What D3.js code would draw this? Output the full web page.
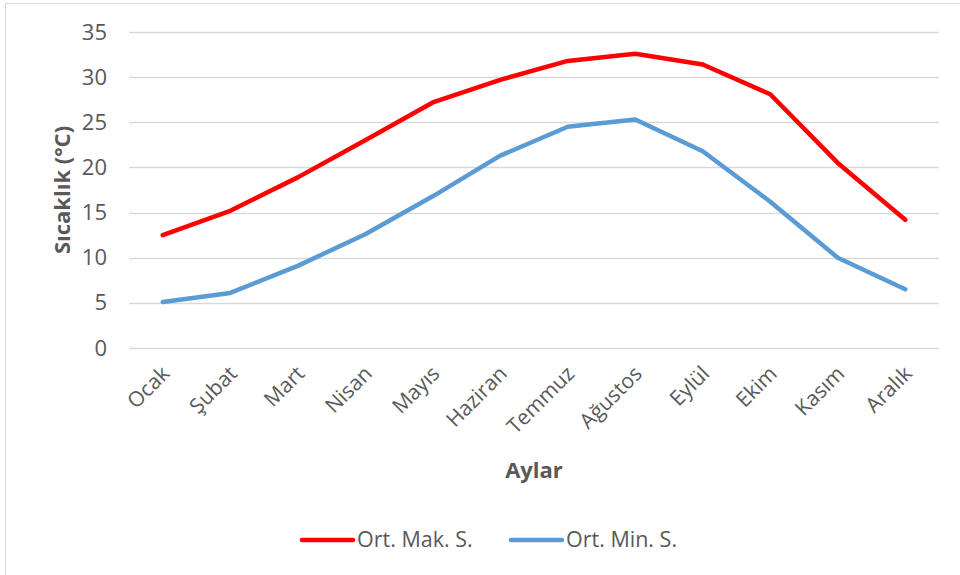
<!DOCTYPE html>
<html>
<head>
<meta charset="utf-8">
<script src="https://cdn.jsdelivr.net/npm/d3@7"></script>
<style>
  body { margin: 0; background: #fff; }
  text { font-family: "Open Sans", sans-serif; fill: #595959; }
</style>
</head>
<body>
<script>
// chart data
var months = ['Ocak', 'Şubat', 'Mart', 'Nisan', 'Mayıs', 'Haziran', 'Temmuz', 'Ağustos', 'Eylül', 'Ekim', 'Kasım', 'Aralık'];
var maxTemp = [12.5, 15.2, 18.9, 23.0, 27.2, 29.7, 31.8, 32.6, 31.4, 28.1, 20.5, 14.2];
var minTemp = [5.1, 6.1, 9.1, 12.6, 16.8, 21.3, 24.5, 25.3, 21.8, 16.2, 10.0, 6.5];
var yTicks = [0, 5, 10, 15, 20, 25, 30, 35];
var seriesNames = ['Ort. Mak. S.', 'Ort. Min. S.'];
var seriesColors = ['#ff0000', '#5b9bd5'];

var w = 960, h = 575;
var margin = {top: 32, left: 129, right: 21, bottom: 227};
var width = w - margin.left - margin.right;
var height = h - margin.top - margin.bottom;

var svg = d3.select('body').append('svg')
    .attr('width', w)
    .attr('height', h);

// chart frame
svg.append('rect')
    .attr('x', 5.5).attr('y', 3.5)
    .attr('width', 980).attr('height', 600)
    .attr('fill', 'none')
    .attr('stroke', '#d9d9d9');

var chart = svg.append('g')
    .attr('transform', 'translate(' + margin.left + ',' + margin.top + ')');

var x = d3.scaleBand()
    .domain(months)
    .range([0, width]);
var y = d3.scaleLinear()
    .domain([0, 35])
    .range([height, 0]);

// gridlines
chart.append('g')
    .selectAll('line')
    .data(yTicks)
    .enter()
    .append('line')
    .attr('x1', 0).attr('x2', width)
    .attr('y1', function (d) { return Math.round(y(d)) + 0.5; })
    .attr('y2', function (d) { return Math.round(y(d)) + 0.5; })
    .attr('stroke', '#d9d9d9')
    .attr('stroke-width', 1.3);

// y axis
var yAxis = d3.axisLeft(y).tickValues(yTicks).tickSize(0).tickPadding(22);
var gy = chart.append('g').call(yAxis);
gy.select('.domain').remove();
gy.selectAll('text')
    .style('font-size', '22px')
    .attr('fill', '#595959');

// x axis
var xAxis = d3.axisBottom(x).tickSize(0).tickPadding(0);
var gx = chart.append('g')
    .attr('transform', 'translate(0,' + height + ')')
    .call(xAxis);
gx.select('.domain').remove();
gx.selectAll('text')
    .style('font-size', '21px')
    .attr('fill', '#595959')
    .attr('text-anchor', 'end')
    .attr('dy', '0')
    .attr('y', 0)
    .attr('transform', 'translate(8,27) rotate(-45)');

// lines
var line = d3.line()
    .x(function (d, i) { return x(months[i]) + x.bandwidth() / 2; })
    .y(function (d) { return y(d); });

[maxTemp, minTemp].forEach(function (series, i) {
    chart.append('path')
        .datum(series)
        .attr('d', line)
        .attr('fill', 'none')
        .attr('stroke', seriesColors[i])
        .attr('stroke-width', 4.5)
        .attr('stroke-linecap', 'round')
        .attr('stroke-linejoin', 'round');
});

// axis titles
svg.append('text')
    .attr('transform', 'translate(70,' + (margin.top + height / 2) + ') rotate(-90)')
    .attr('text-anchor', 'middle')
    .style('font-size', '22px')
    .style('font-weight', 'bold')
    .text('Sıcaklık (°C)');

svg.append('text')
    .attr('x', 534).attr('y', 478)
    .attr('text-anchor', 'middle')
    .style('font-size', '22px')
    .style('font-weight', 'bold')
    .text('Aylar');

// legend
var legendX = [300, 509];
seriesNames.forEach(function (name, i) {
    var g = svg.append('g')
        .attr('transform', 'translate(' + legendX[i] + ',540)');
    g.append('line')
        .attr('x1', 2).attr('x2', 53)
        .attr('stroke', seriesColors[i])
        .attr('stroke-width', 4.5)
        .attr('stroke-linecap', 'round');
    g.append('text')
        .attr('x', 57).attr('y', 7)
        .style('font-size', '21.5px')
        .text(name);
});
</script>
</body>
</html>
